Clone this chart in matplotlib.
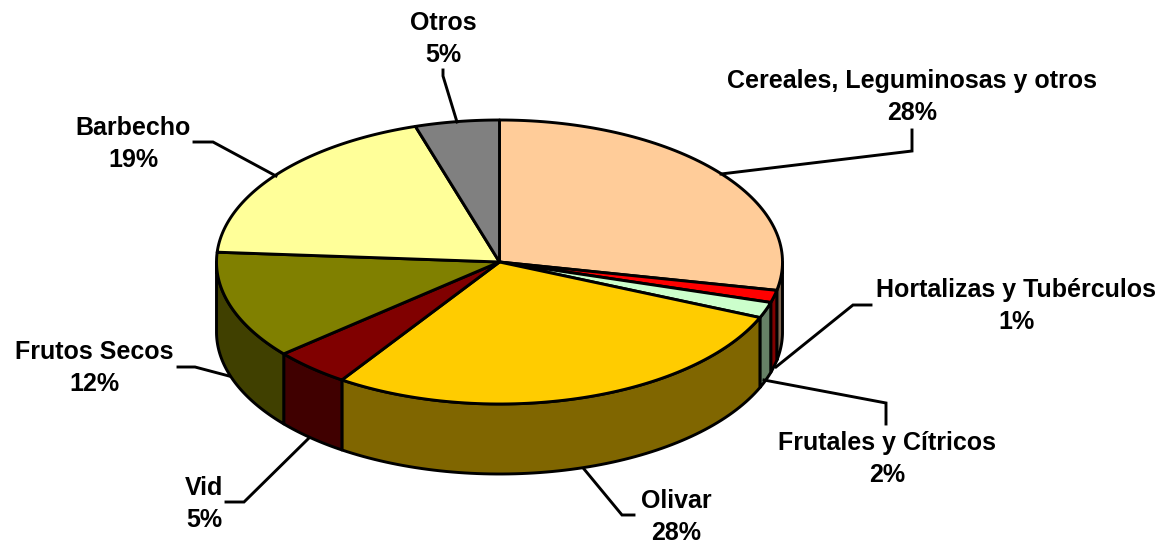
import numpy as np
import matplotlib
matplotlib.use("Agg")
import matplotlib.pyplot as plt
from matplotlib.patches import Polygon

categories = ["Cereales, Leguminosas y otros", "Hortalizas y Tubérculos", "Frutales y Cítricos",
              "Olivar", "Vid", "Frutos Secos", "Barbecho", "Otros"]
values = [28.2, 1.4, 1.8, 28.0, 4.4, 12.3, 19.1, 4.8]
percent_labels = ["28%", "1%", "2%", "28%", "5%", "12%", "19%", "5%"]
top_colors = ["#FFCC99", "#FF0000", "#CCFFCC", "#FFCC00", "#800000", "#808000", "#FFFF99", "#808080"]
side_colors = ["#806650", "#800000", "#668066", "#806600", "#400000", "#404000", "#808050", "#404040"]

W, H = 1164, 543
CX, CY, RX, RY, DEPTH = 499.5, 262, 283, 142, 70
LW = 2.1

label_pos = [(912, 97), (1016, 306), (887, 459), (676, 517), (204, 504), (94, 368), (133, 144), (443, 39)]
leaders = [
    [(721, 174), (912, 151), (912, 130)],
    [(776, 367), (853, 305), (871, 305)],
    [(764, 380), (886, 403), (886, 424)],
    [(584, 469), (622, 515), (634, 515)],
    [(309, 438), (244, 502), (226, 502)],
    [(229, 376), (195, 367), (178, 367)],
    [(276, 176), (213, 142), (194, 142)],
    [(457, 122), (443, 76), (443, 70)],
]

fig = plt.figure(figsize=(W / 100, H / 100), dpi=100)
ax = fig.add_axes([0, 0, 1, 1])
ax.set_xlim(0, W)
ax.set_ylim(H, 0)
ax.axis("off")


def rim(a0, a1, n=80):
    t = np.radians(np.linspace(a0, a1, n))
    return CX + RX * np.sin(t), CY - RY * np.cos(t)


edges = 360 * np.concatenate([[0], np.cumsum(values)]) / np.sum(values)

# side walls: only the front half (90 to 270 degrees clockwise from the top) is visible
for i in range(len(values)):
    a0, a1 = max(edges[i], 90), min(edges[i + 1], 270)
    if a1 <= a0:
        continue
    x, y = rim(a0, a1)
    pts = np.column_stack([np.r_[x, x[::-1]], np.r_[y, y[::-1] + DEPTH]])
    ax.add_patch(Polygon(pts, closed=True, fc=side_colors[i], ec="black", lw=LW, joinstyle="round", zorder=2))

# top faces
for i in range(len(values)):
    x, y = rim(edges[i], edges[i + 1])
    pts = np.column_stack([np.r_[CX, x], np.r_[CY, y]])
    ax.add_patch(Polygon(pts, closed=True, fc=top_colors[i], ec="black", lw=LW, joinstyle="round", zorder=3))

for pts in leaders:
    p = np.array(pts)
    ax.plot(p[:, 0], p[:, 1], color="black", lw=LW, zorder=4, solid_joinstyle="miter")

for name, pct, (lx, ly) in zip(categories, percent_labels, label_pos):
    ax.text(lx, ly, f"{name}\n{pct}", ha="center", va="center", family="Liberation Sans",
            fontweight="bold", fontsize=18, linespacing=1.38, color="black", zorder=5)

fig.savefig("out.png", dpi=100, facecolor="white")
